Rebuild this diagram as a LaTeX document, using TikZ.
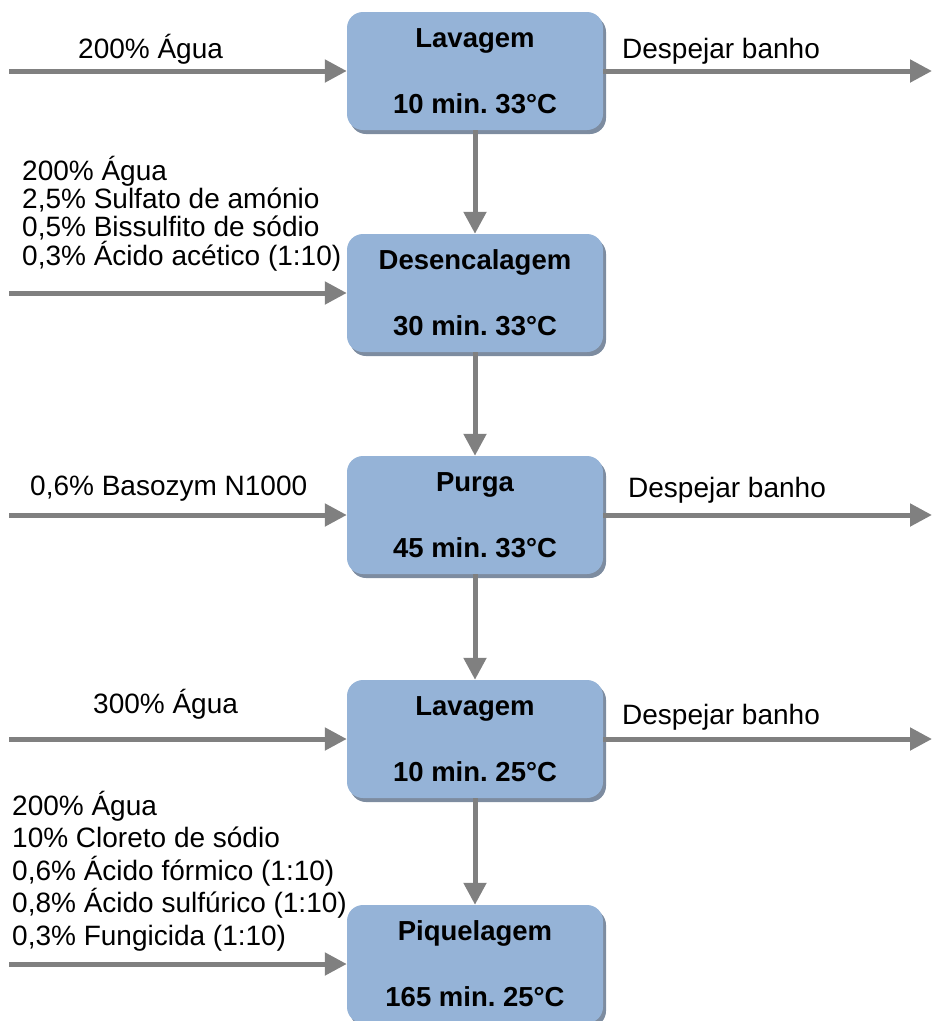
\documentclass[tikz,border=0pt]{standalone}
\usepackage{fontspec}
\setmainfont{Liberation Sans}
\usetikzlibrary{arrows.meta,shadows}
\definecolor{caixa}{RGB}{149,179,215}
\definecolor{sombra}{RGB}{125,140,160}
\definecolor{cinza}{RGB}{128,128,128}
\frenchspacing
\begin{document}
\begin{tikzpicture}[
        x = 1pt, y = -1pt,
        etapa/.style = {fill = caixa, rounded corners = 16pt, minimum width = 256pt, minimum height = 118pt,
            align = center, inner sep = 0pt, font = \fontsize{27.5}{32}\selectfont\bfseries,
            drop shadow = {shadow xshift = 3pt, shadow yshift = -4pt, fill = sombra, opacity = 1}},
        fluxo/.style = {draw = cinza, line width = 5pt, -{Triangle[length = 22pt, width = 22pt]}},
        rotulo/.style = {inner sep = 0pt, font = \fontsize{28}{32}\selectfont}
    ]
        \useasboundingbox (0,0) rectangle (932,1021);
        % etapas
        \node[etapa] (lav1) at (475,71) {Lavagem\\[34pt]10 min. 33°C};
        \node[etapa] (desenc) at (475,293) {Desencalagem\\[34pt]30 min. 33°C};
        \node[etapa] (purga) at (475,515) {Purga\\[34pt]45 min. 33°C};
        \node[etapa] (lav2) at (475,739) {Lavagem\\[34pt]10 min. 25°C};
        \node[etapa] (piquel) at (475,964) {Piquelagem\\[34pt]165 min. 25°C};
        % entradas e saidas
        \coordinate (e1) at (9,71);
        \coordinate (e2) at (9,293);
        \coordinate (e3) at (9,515);
        \coordinate (e4) at (9,739);
        \coordinate (e5) at (9,964);
        \coordinate (s1) at (932,71);
        \coordinate (s3) at (932,515);
        \coordinate (s4) at (932,739);
        \draw[fluxo] (e1) -- (lav1.west);
        \draw[fluxo] (e2) -- (desenc.west);
        \draw[fluxo] (e3) -- (purga.west);
        \draw[fluxo] (e4) -- (lav2.west);
        \draw[fluxo] (e5) -- (piquel.west);
        \draw[fluxo] (lav1.east) -- (s1);
        \draw[fluxo] (purga.east) -- (s3);
        \draw[fluxo] (lav2.east) -- (s4);
        \draw[fluxo] (lav1.south) -- (desenc.north);
        \draw[fluxo] (desenc.south) -- (purga.north);
        \draw[fluxo] (purga.south) -- (lav2.north);
        \draw[fluxo] (lav2.south) -- (piquel.north);
        % rotulos
        \node[rotulo, anchor = base west] (agua1) at (78,58) {200\% Água};
        \node[rotulo, anchor = base west] (banho1) at (622,58) {Despejar banho};
        \node[rotulo, anchor = south west, align = left, font = \fontsize{28}{27.7}\selectfont] (banho2) at (22,271)
            {200\% Água\\2,5\% Sulfato de amónio\\0,5\% Bissulfito de sódio\\0,3\% Ácido acético (1:10)};
        \node[rotulo, anchor = base west] (enzima) at (30,495) {0,6\% Basozym N1000};
        \node[rotulo, anchor = base west] (banho3) at (628,497) {Despejar banho};
        \node[rotulo, anchor = base west] (agua4) at (93,713) {300\% Água};
        \node[rotulo, anchor = base west] (banho4) at (622,724) {Despejar banho};
        \node[rotulo, anchor = south west, align = left, font = \fontsize{28}{32.5}\selectfont] (banho5) at (12,951)
            {200\% Água\\10\% Cloreto de sódio\\0,6\% Ácido fórmico (1:10)\\0,8\% Ácido sulfúrico (1:10)\\0,3\% Fungicida (1:10)};
\end{tikzpicture}
\end{document}
